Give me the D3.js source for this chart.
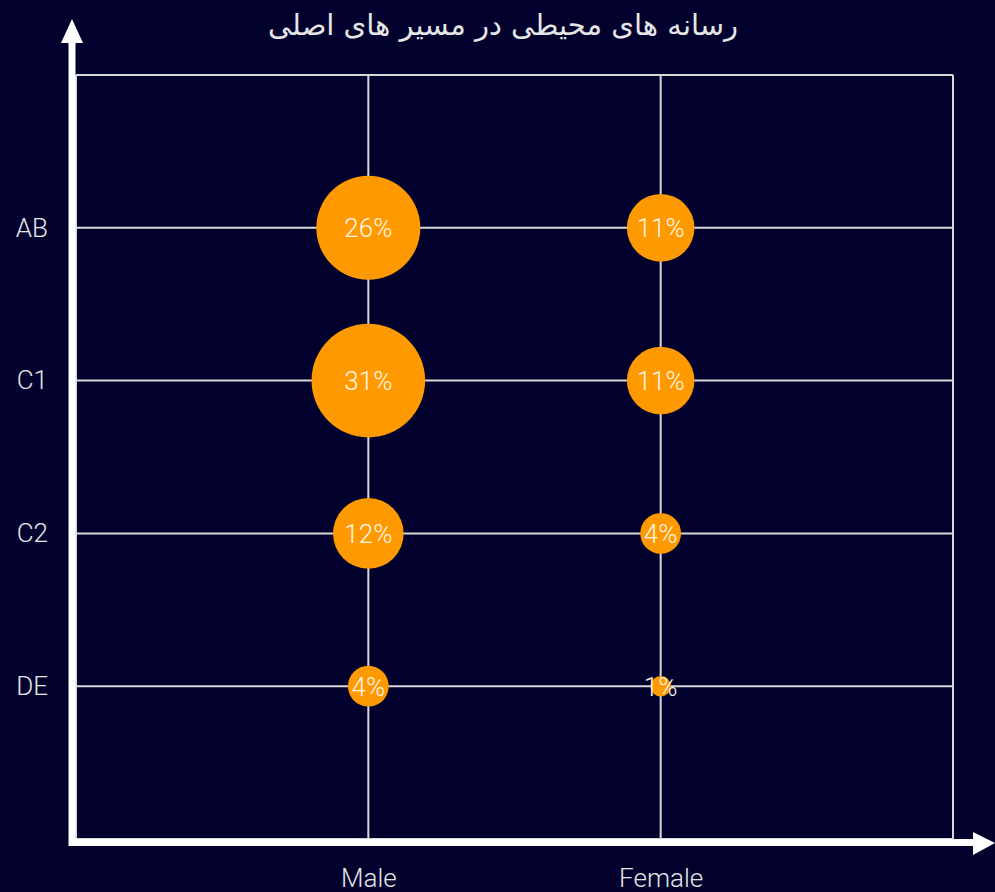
<!DOCTYPE html>
<html><head><meta charset="utf-8">
<script src="https://cdn.jsdelivr.net/npm/d3@7/dist/d3.min.js"></script>
<style>
html,body{margin:0;padding:0;background:#02012e;}
svg{display:block;}
</style></head>
<body>
<script>
const title = "رسانه های محیطی در مسیر های اصلی";
const genders = ["Male", "Female"];
const groups = ["AB", "C1", "C2", "DE"];
const maleValues = [26, 31, 12, 4];
const femaleValues = [11, 11, 4, 1];

(function () {
const W = 995, H = 892;
const pLeft = 76, pRight = 953, pTop = 75, pBottom = 839;
const bg = "#02012e", grid = "#d9d9d9", orange = "#ff9900";

const svg = d3.select("body").append("svg").attr("width", W).attr("height", H)
  .style("background", bg);

const x = d3.scaleLinear().domain([0, genders.length + 1]).range([pLeft, pRight]);
const y = d3.scaleLinear().domain([0, groups.length + 1]).range([pTop, pBottom]);
const r = d3.scaleSqrt().domain([0, 31]).range([0, 56.8]);

svg.append("g").selectAll("line").data(d3.range(0, genders.length + 2)).join("line")
  .attr("x1", d => x(d)).attr("x2", d => x(d)).attr("y1", pTop).attr("y2", pBottom)
  .attr("stroke", grid).attr("stroke-width", 2);
svg.append("g").selectAll("line").data(d3.range(0, groups.length + 2)).join("line")
  .attr("y1", d => y(d)).attr("y2", d => y(d)).attr("x1", pLeft).attr("x2", pRight)
  .attr("stroke", grid).attr("stroke-width", 2);

const fontFam = "Roboto, 'Helvetica Neue', sans-serif";
const yAxis = d3.axisLeft(y).tickValues(d3.range(1, groups.length + 1))
  .tickFormat(d => groups[d - 1]).tickSize(0).tickPadding(28);
const ya = svg.append("g").attr("transform", `translate(${pLeft},0)`).call(yAxis);
ya.select(".domain").remove();
ya.selectAll("text").attr("fill", "#e6e6e6").style("font-size", "26px")
  .style("font-family", fontFam).style("font-weight", 300);

const xAxis = d3.axisBottom(x).tickValues(d3.range(1, genders.length + 1))
  .tickFormat(d => genders[d - 1]).tickSize(0).tickPadding(30);
const xa = svg.append("g").attr("transform", `translate(0,${pBottom})`).call(xAxis);
xa.select(".domain").remove();
xa.selectAll("text").attr("fill", "#e6e6e6").style("font-size", "26px")
  .style("font-family", fontFam).style("font-weight", 300);

svg.append("line").attr("x1", 72).attr("x2", 72).attr("y1", 40).attr("y2", 846)
  .attr("stroke", "#ffffff").attr("stroke-width", 7);
svg.append("path").attr("d", "M72,19 L61,43 L83,43 Z").attr("fill", "#ffffff");
svg.append("line").attr("x1", 69).attr("x2", 976).attr("y1", 842.5).attr("y2", 842.5)
  .attr("stroke", "#ffffff").attr("stroke-width", 7);
svg.append("path").attr("d", "M995,843 L973,832 L973,855 Z").attr("fill", "#ffffff");

const data = [];
groups.forEach((g, i) => {
  data.push({gx: 1, gy: i + 1, v: maleValues[i]});
  data.push({gx: 2, gy: i + 1, v: femaleValues[i]});
});
const b = svg.append("g").selectAll("g").data(data).join("g")
  .attr("transform", d => `translate(${x(d.gx)},${y(d.gy)})`);
b.append("circle").attr("r", d => r(d.v)).attr("fill", orange);
b.append("text").text(d => d.v + "%").attr("text-anchor", "middle").attr("dy", "0.36em")
  .attr("fill", "#fff6e8").style("font-size", "26px").style("font-family", fontFam)
  .style("font-weight", 300);

svg.append("text").attr("x", 503).attr("y", 35).attr("text-anchor", "middle")
  .attr("fill", "#e6e6e6").style("font-size", "29px").style("font-family", "'DejaVu Sans', sans-serif")
  .text(title);
})();
</script>
</body></html>
